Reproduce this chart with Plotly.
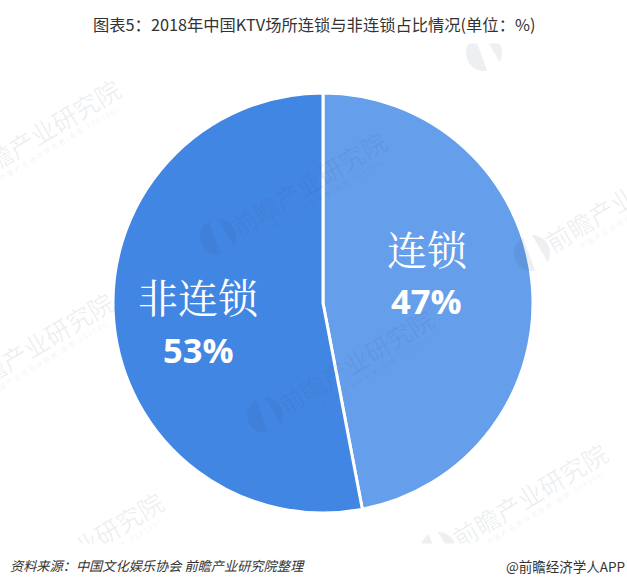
import math
import plotly.graph_objects as go

# 数据
categories = ['连锁', '非连锁']
values = [47, 53]
colors = ['#659EEA', '#4286E3']

title_text = '图表5：2018年中国KTV场所连锁与非连锁占比情况(单位：%)'
source_text = '资料来源：中国文化娱乐协会 前瞻产业研究院整理'
credit_text = '@前瞻经济学人APP'
wm_main = '前瞻产业研究院'
wm_sub = '中 国 产 业 咨 询 领 导 者 ( 股 票 : 8 3 9 5 9 9 )'

W, H = 627, 587
CJK = 'Noto Sans CJK SC'
WM_COLOR = 'rgba(60,80,110,0.09)'

fig = go.Figure()

fig.add_trace(go.Pie(
    labels=categories,
    values=values,
    sort=False,
    direction='clockwise',
    rotation=0,
    textinfo='none',
    marker=dict(colors=colors, line=dict(color='white', width=3)),
    domain=dict(x=[113 / W, 533 / W], y=[1 - 513 / H, 1 - 93 / H]),
    showlegend=False
))

annotations = []


def px_note(text, x, y, size, color='#333333', family=CJK, xanchor='center', **kw):
    annotations.append(dict(
        text=text, x=x / W, y=1 - y / H, xref='paper', yref='paper',
        xanchor=xanchor, yanchor='middle', showarrow=False,
        font=dict(family=family, size=size, color=color, style=kw.pop('style', 'normal')), **kw
    ))


def logo_part(cx, cy, r, a0, a1):
    # Kreissegment als Polygon, Winkel in Grad
    pts = [(cx + r * math.cos(math.radians(a0 + (a1 - a0) * i / 24)),
            cy + r * math.sin(math.radians(a0 + (a1 - a0) * i / 24))) for i in range(25)]
    path = 'M ' + ' L '.join(f'{px / W:.4f},{1 - py / H:.4f}' for px, py in pts) + ' Z'
    return dict(type='path', path=path, xref='paper', yref='paper',
                fillcolor=WM_COLOR, line=dict(width=0), layer='above')


# 水印
wm_centers = [(42, 131), (622, 199), (35, 344), (308, 183), (355, 361), (529, 495), (85, 544)]
for wx, wy in wm_centers:
    px_note(wm_main, wx, wy, 25, color=WM_COLOR, textangle=-31)
    px_note(wm_sub, wx + 16, wy + 13, 7, color=WM_COLOR, textangle=-31)

shapes = []
for lx, ly in [(218, 237), (265, 415), (438, 550), (532, 253), (484, 53)]:
    shapes.append(logo_part(lx, ly, 18, 80, 240))
    shapes.append(logo_part(lx, ly, 18, 270, 390))

# 上下白边，盖住水印
px_note(' ', W / 2, 21, 10, width=W, height=42, bgcolor='white')
px_note(' ', W / 2, 566, 10, width=W, height=42, bgcolor='white')

# 标题和脚注
px_note(title_text, 314, 24, 16.3)
px_note(source_text, 8, 565, 13.2, xanchor='left', style='italic')
px_note(credit_text, 627, 566, 13.5, xanchor='right')

# 扇区标签
SERIF = 'Noto Serif CJK SC, Noto Sans CJK SC'
px_note(categories[0], 427, 247, 40, color='white', family=SERIF)
px_note(f'<b>{values[0]}%</b>', 426, 300, 34.5, color='white', family='Open Sans')
px_note(categories[1], 199, 296, 40, color='white', family=SERIF)
px_note(f'<b>{values[1]}%</b>', 199, 349, 34.5, color='white', family='Open Sans')

fig.update_layout(
    width=W, height=H,
    margin=dict(l=0, r=0, t=0, b=0),
    paper_bgcolor='white',
    annotations=annotations,
    shapes=shapes
)

fig.write_html("out.html", config=dict(displayModeBar=False), post_script="document.body.style.margin='0';")
